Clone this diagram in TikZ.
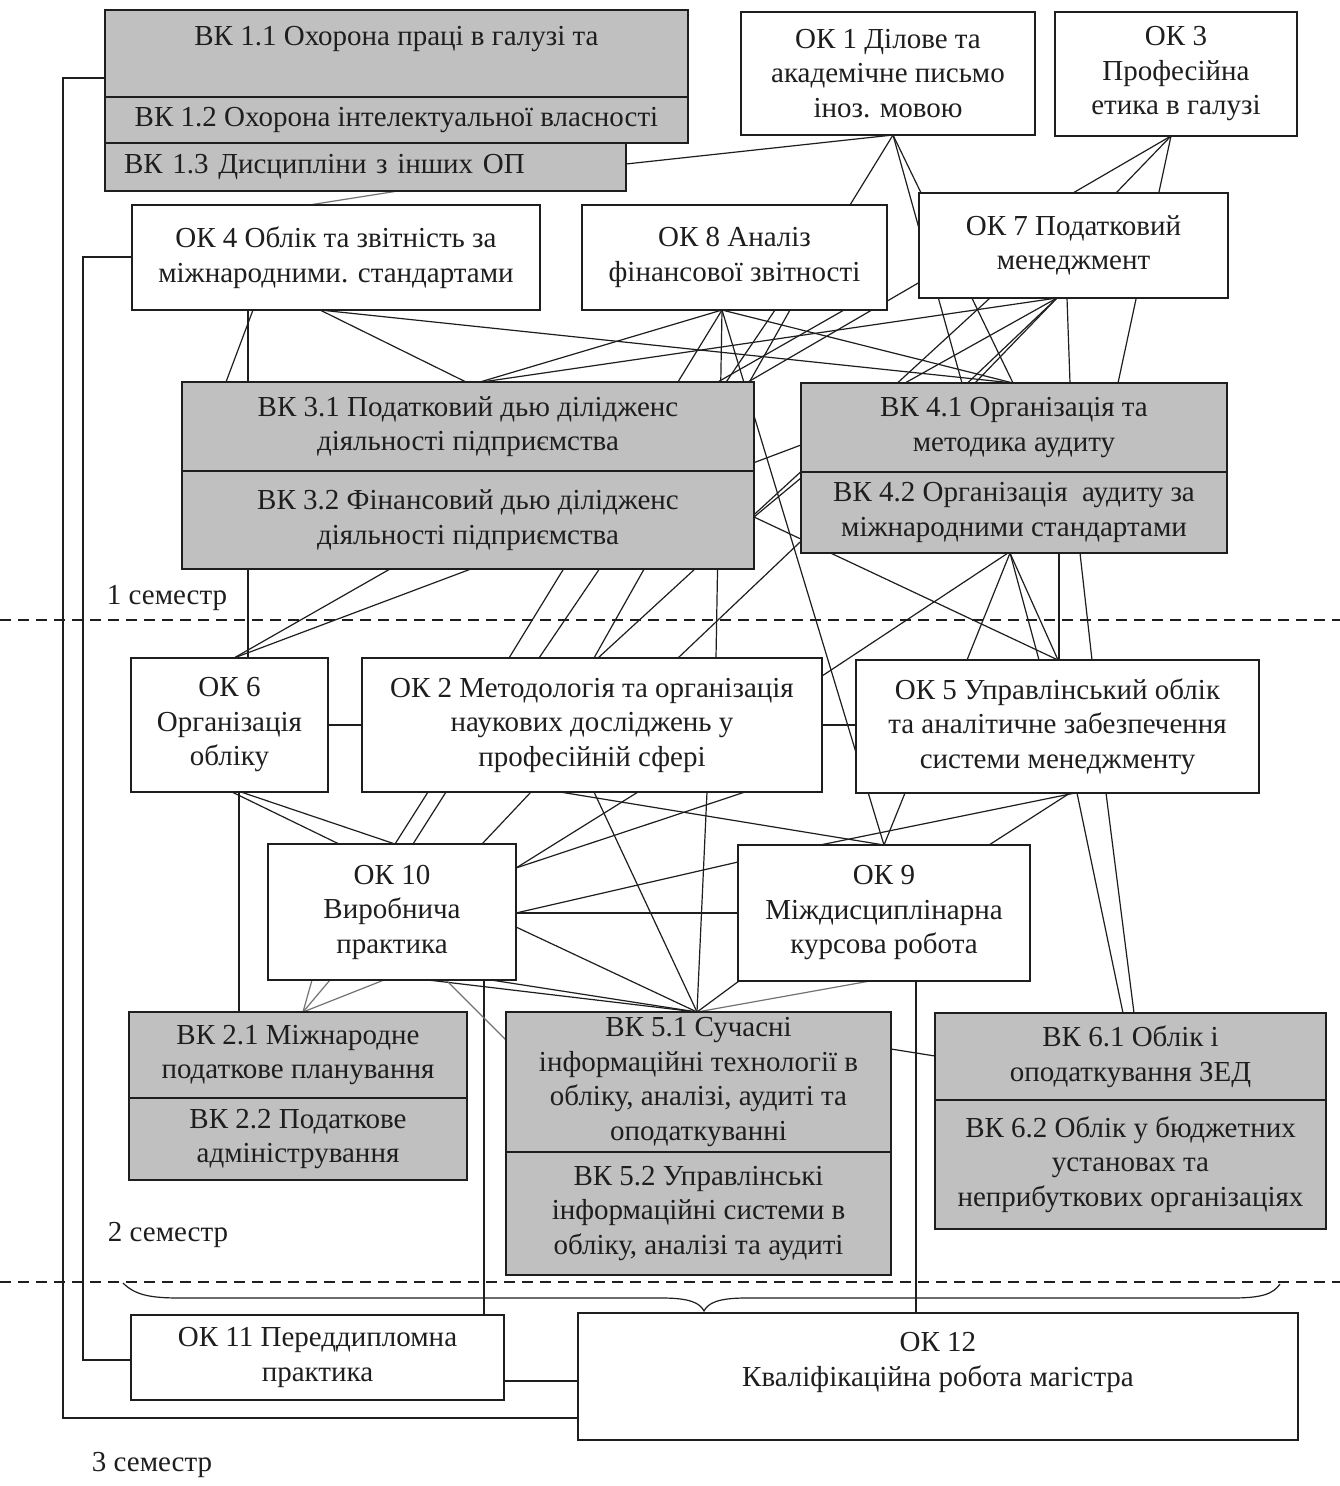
\documentclass[tikz,border=0pt]{standalone}
\usepackage{fontspec}
\setmainfont{Liberation Serif}
\pgfdeclarelayer{lines}
\pgfsetlayers{lines,main}
\definecolor{boxgray}{RGB}{192,192,192}
\definecolor{ink}{RGB}{30,30,30}
\definecolor{lgray}{RGB}{115,115,115}
\newcommand\bxfont{\fontsize{29}{34.5}\selectfont}
\begin{document}
\begin{tikzpicture}[x=1pt,y=-1pt,
 box/.style={draw=ink, line width=1.6pt, fill=white, inner sep=0pt, outer sep=0pt, align=center, font=\bxfont, text=ink},
 gbox/.style={box, fill=boxgray},
 conn/.style={draw=ink, line width=1.2pt},
 lconn/.style={draw=lgray, line width=1.2pt},
 sem/.style={font=\bxfont, text=ink, inner sep=0pt},
 sepline/.style={draw=ink, line width=1.3pt, dash pattern=on 11pt off 7pt}]
\useasboundingbox (0,0) rectangle (1340,1486);
% ---------------- boxes ----------------
\node[gbox, minimum width=583pt, minimum height=87pt] (vk11) at (396.5,53.5) {ВК 1.1 Охорона праці в галузі та\\\mbox{}};
\node[gbox, minimum width=583pt, minimum height=46pt] (vk12) at (396.5,120) {ВК 1.2 Охорона інтелектуальної власності};
\node[gbox, text width=483pt, inner xsep=19pt, align=left, minimum height=48pt] (vk13) at (365.5,167) {ВК 1.3 Дисципліни з інших ОП};
\node[box, minimum width=294pt, minimum height=123pt] (ok1) at (888,73.5) {ОК 1 Ділове та\\академічне письмо\\іноз. мовою};
\node[box, minimum width=242pt, minimum height=124pt] (ok3) at (1176,74) {ОК 3\\Професійна\\етика в галузі};
\node[box, minimum width=408pt, minimum height=105pt] (ok4) at (336,257.5) {ОК 4 Облік та звітність за\\міжнародними. стандартами};
\node[box, minimum width=305pt, minimum height=105pt] (ok8) at (734.5,257.5) {ОК 8 Аналіз\\фінансової звітності};
\node[box, minimum width=309pt, minimum height=105pt] (ok7) at (1073.5,245.5) {ОК 7 Податковий\\менеджмент};
\node[gbox, minimum width=572pt, minimum height=89pt] (vk31) at (468,426.5) {ВК 3.1 Податковий дью ділідженс\\діяльності підприємства};
\node[gbox, minimum width=572pt, minimum height=98pt] (vk32) at (468,520) {ВК 3.2 Фінансовий дью ділідженс\\діяльності підприємства};
\node[gbox, minimum width=426pt, minimum height=89pt] (vk41) at (1014,427.5) {ВК 4.1 Організація та\\методика аудиту};
\node[gbox, minimum width=426pt, minimum height=81pt] (vk42) at (1014,512.5) {ВК 4.2 Організація\ \ аудиту за\\міжнародними стандартами};
\node[box, minimum width=197pt, minimum height=134pt] (ok6) at (229.5,725) {ОК 6\\Організація\\обліку};
\node[box, minimum width=460pt, minimum height=134pt] (ok2) at (592,725) {ОК 2 Методологія та організація\\наукових досліджень у\\професійній сфері};
\node[box, minimum width=403pt, minimum height=133pt] (ok5) at (1057.5,726.5) {ОК 5 Управлінський облік\\та аналітичне забезпечення\\системи менеджменту};
\node[box, minimum width=248pt, minimum height=136pt] (ok10) at (392,912) {ОК 10\\Виробнича\\практика};
\node[box, minimum width=292pt, minimum height=136pt] (ok9) at (884,913) {ОК 9\\Міждисциплінарна\\курсова робота};
\node[gbox, minimum width=338pt, minimum height=86pt] (vk21) at (298,1055) {ВК 2.1 Міжнародне\\податкове планування};
\node[gbox, minimum width=338pt, minimum height=82pt] (vk22) at (298,1139) {ВК 2.2 Податкове\\адміністрування};
\node[gbox, minimum width=385pt, minimum height=140pt] (vk51) at (698.5,1082) {ВК 5.1 Сучасні\\інформаційні технології в\\обліку, аналізі, аудиті та\\оподаткуванні};
\node[gbox, minimum width=385pt, minimum height=123pt] (vk52) at (698.5,1213.5) {ВК 5.2 Управлінські\\інформаційні системи в\\обліку, аналізі та аудиті};
\node[gbox, minimum width=391pt, minimum height=87pt] (vk61) at (1130.5,1056.5) {ВК 6.1 Облік і\\оподаткування ЗЕД};
\node[gbox, minimum width=391pt, minimum height=129pt] (vk62) at (1130.5,1164.5) {ВК 6.2 Облік у бюджетних\\установах та\\неприбуткових організаціях};
\node[box, minimum width=373pt, minimum height=85pt] (ok11) at (317.5,1357.5) {ОК 11 Переддипломна\\практика};
\node[box, minimum width=720pt, minimum height=127pt] (ok12) at (938,1376.5) {ОК 12\\Кваліфікаційна робота магістра\\\mbox{}};
\node[sem] (sem1) at (167,598) {1 семестр};
\node[sem] (sem2) at (168,1235) {2 семестр};
\node[sem] (sem3) at (152,1465) {3 семестр};
% ---------------- connectors ----------------
\begin{pgfonlayer}{lines}
\fill[white] (0,0) rectangle (1340,1486);
\draw[sepline] (0,620) -- (1340,620);
\draw[sepline] (0,1282) -- (1340,1282);
% top band
\draw[conn] (vk13.east |- 0,164) -- (ok1.south -| 893,0);
\draw[conn] (ok1.south -| 893,0) -- (ok8.north -| 850,0);
\draw[conn] (ok1.south -| 893,0) -- (vk41.north -| 962,0);
\draw[conn] (ok1.south -| 893,0) -- (vk41.north -| 1013,0);
\draw[conn] (ok3.south -| 1171,0) -- (vk31.north -| 748,0);
\draw[conn] (ok3.south -| 1171,0) -- (ok7.north -| 1116,0);
\draw[conn] (ok3.south -| 1171,0) -- (vk41.north -| 1118,0);
\draw[lconn] (vk13.south -| 398,0) -- (ok4.north -| 309,0);
% band B
\draw[conn] (ok4.south -| 253,0) -- (vk31.north -| 226,0);
\draw[conn] (ok4.south -| 248,0) -- (ok6.north -| 248,0);
\draw[conn] (ok4.south -| 320,0) -- (vk31.north -| 466,0);
\draw[conn] (ok4.south -| 320,0) -- (vk41.north -| 1013,0);
\draw[conn] (ok8.south -| 722,0) -- (vk31.north -| 480,0);
\draw[conn] (ok8.south -| 722,0) -- (ok2.north -| 509,0);
\draw[conn] (ok8.south -| 722,0) -- (ok2.north -| 716,0);
\draw[conn] (ok8.south -| 722,0) -- (vk41.north -| 1013,0);
\draw[conn] (ok8.south -| 775,0) -- (ok2.north -| 539,0);
\draw[conn] (ok8.south -| 790,0) -- (ok2.north -| 594,0);
\draw[conn] (ok7.south -| 1057,0) -- (vk31.north -| 482,0);
\draw[conn] (ok7.south -| 1057,0) -- (vk41.north -| 905,0);
\draw[conn] (ok7.south -| 1057,0) -- (vk41.north -| 975,0);
\draw[conn] (ok7.south -| 1067,0) -- (vk41.north -| 1070,0);
\draw[conn] (ok7.south -| 1057,0) -- (ok2.north -| 678,0);
\draw[conn] (ok7.south -| 990,0) -- (ok2.north -| 598,0);
\draw[conn] (ok8.south -| 844,0) -- (ok6.north -| 234,0);
\draw[conn] (ok8.south -| 722,0) -- (ok9.north -| 884,0);
\draw[conn] (vk41.west |- 0,445) -- (ok6.north -| 234,0);
\draw[conn] (vk32.east |- 0,517) -- (vk42.west |- 0,478);
\draw[conn] (vk32.east |- 0,517) -- (ok5.north -| 1058,0);
% band C
\draw[conn] (vk42.south -| 1010,0) -- (ok5.north -| 967,0);
\draw[conn] (vk42.south -| 1010,0) -- (ok5.north -| 1039,0);
\draw[conn] (vk42.south -| 1010,0) -- (ok5.north -| 1058,0);
\draw[conn] (vk42.south -| 1059,0) -- (ok5.north -| 1059,0);
\draw[conn] (vk42.south -| 1080,0) -- (ok5.north -| 1092,0);
\draw[conn] (vk42.south -| 1008,0) -- (ok2.east |- 0,676);
\draw[conn] (ok6.east |- 0,725) -- (ok2.west |- 0,725);
\draw[conn] (ok2.east |- 0,725) -- (ok5.west |- 0,725);
% band D
\draw[conn] (ok6.south -| 232,0) -- (ok10.north -| 339,0);
\draw[conn] (ok6.south -| 241,0) -- (ok10.north -| 395,0);
\draw[conn] (ok6.south -| 239,0) -- (vk21.north -| 239,0);
\draw[conn] (ok2.south -| 428,0) -- (ok10.north -| 395,0);
\draw[conn] (ok2.south -| 446,0) -- (ok10.north -| 413,0);
\draw[conn] (ok2.south -| 531,0) -- (ok10.north -| 482,0);
\draw[conn] (ok2.south -| 594,0) -- (vk51.north -| 697,0);
\draw[conn] (ok2.south -| 638,0) -- (ok10.east |- 0,868);
\draw[conn] (ok2.south -| 560,0) -- (ok9.north -| 884,0);
\draw[conn] (ok2.south -| 707,0) -- (vk51.north -| 697,0);
\draw[conn] (ok10.east |- 0,868) -- (ok2.south -| 745,0);
\draw[conn] (ok5.south -| 905,0) -- (ok9.north -| 884,0);
\draw[conn] (ok5.south -| 1075,0) -- (ok9.north -| 820,0);
\draw[conn] (ok5.south -| 1070,0) -- (ok9.north -| 989,0);
\draw[conn] (ok5.south -| 1077,0) -- (vk61.north -| 1123,0);
\draw[conn] (ok5.south -| 1106,0) -- (vk61.north -| 1134,0);
% band E
\draw[conn] (ok10.east |- 0,913) -- (ok9.west |- 0,862);
\draw[conn] (ok10.east |- 0,913) -- (ok9.west |- 0,913);
\draw[conn] (ok10.east |- 0,927) -- (vk51.north -| 697,0);
\draw[conn] (ok10.south -| 428,0) -- (vk51.north -| 697,0);
\draw[conn] (ok10.south -| 491,0) -- (vk51.north -| 697,0);
\draw[conn] (ok9.south -| 739,0) -- (vk51.north -| 697,0);
\draw[lconn] (ok9.south -| 870,0) -- (vk51.north -| 697,0);
\draw[conn] (ok9.south -| 916,0) -- (ok12.north -| 916,0);
\draw[conn] (ok10.south -| 484,0) -- (ok11.north -| 484,0);
\draw[lconn] (ok10.south -| 312,0) -- (vk21.north -| 303,0);
\draw[lconn] (ok10.south -| 330,0) -- (vk21.north -| 303,0);
\draw[lconn] (ok10.south -| 384,0) -- (vk21.north -| 303,0);
\draw[lconn] (ok10.south -| 446,0) -- (vk51.west |- 0,1040);
\draw[conn] (vk51.east |- 0,1049) -- (vk61.west |- 0,1056);
% bottom
\draw[conn] (ok11.east |- 0,1381) -- (ok12.west |- 0,1381);
\draw[conn] (vk11.west |- 0,78) -- (63,78) -- (63,1418) -- (ok12.west |- 0,1418);
\draw[conn] (ok4.west |- 0,257) -- (83,257) -- (83,1360) -- (ok11.west |- 0,1360);
% brace
\draw[conn] (123,1283) .. controls (135,1295) and (150,1298) .. (180,1298) -- (662,1298) .. controls (690,1298) and (700,1303) .. (704,1311) .. controls (708,1303) and (718,1298) .. (746,1298) -- (1232,1298) .. controls (1262,1298) and (1273,1294) .. (1280,1284);
\end{pgfonlayer}
\end{tikzpicture}
\end{document}
